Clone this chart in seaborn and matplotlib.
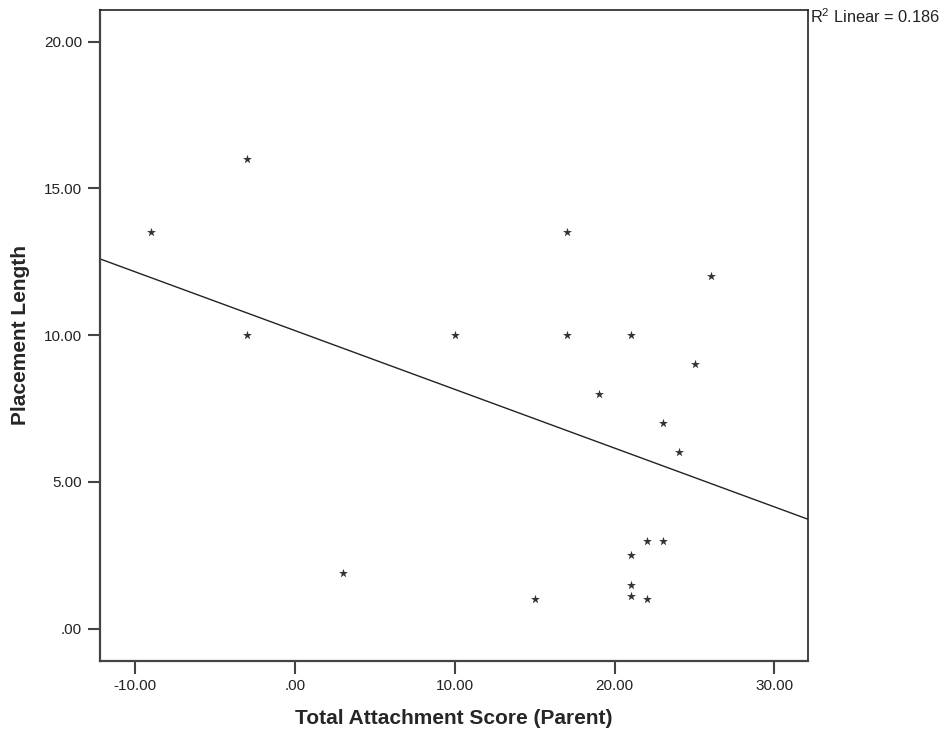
import numpy as np
import pandas as pd
import matplotlib
matplotlib.use("Agg")
import matplotlib.pyplot as plt
from matplotlib.ticker import FuncFormatter
import seaborn as sns

attachment_score = [-9, -3, -3, 3, 10, 15, 17, 17, 19, 21, 21, 21, 21,
                    22, 22, 23, 23, 24, 25, 26]
placement_length = [13.5, 16, 10, 1.9, 10, 1, 13.5, 10, 8, 10, 2.5, 1.5, 1.1,
                    3, 1, 3, 7, 6, 9, 12]
x_ticks = [-10, 0, 10, 20, 30]
y_ticks = [0, 5, 10, 15, 20]
r2_label = "R$^2$ Linear = 0.186"

df = pd.DataFrame({"Total Attachment Score (Parent)": attachment_score,
                   "Placement Length": placement_length})

sns.set_style("ticks")
plt.rcParams["font.family"] = ["Liberation Sans", "DejaVu Sans"]
plt.rcParams["mathtext.default"] = "regular"


def spss_fmt(v, pos):
    s = "%.2f" % v
    if s.startswith("0."):
        s = s[1:]
    elif s.startswith("-0."):
        s = "-" + s[2:]
    return s


fig = plt.figure(figsize=(9.41, 7.31), dpi=100)
ax = fig.add_axes([100 / 941, 1 - 660.5 / 731, 708 / 941, 651 / 731])
ax.set_xlim(-12.2, 32.1)
ax.set_ylim(-1.09, 21.1)

sns.regplot(data=df, x="Total Attachment Score (Parent)", y="Placement Length",
            ax=ax, ci=None, truncate=False, marker="*",
            scatter_kws={"s": 46, "color": "black", "linewidths": 0},
            line_kws={"color": "#222222", "linewidth": 1.0})
ax.set_xlim(-12.2, 32.1)
ax.set_ylim(-1.09, 21.1)

ax.set_xticks(x_ticks)
ax.set_yticks(y_ticks)
ax.xaxis.set_major_formatter(FuncFormatter(spss_fmt))
ax.yaxis.set_major_formatter(FuncFormatter(spss_fmt))
ax.tick_params(axis="both", direction="out", length=9, width=1.5,
               color="#444444", labelsize=11, labelcolor="#222222", pad=4)

for side in ["left", "bottom"]:
    ax.spines[side].set_color("#444444")
    ax.spines[side].set_linewidth(1.6)
for side in ["top", "right"]:
    ax.spines[side].set_color("#222222")
    ax.spines[side].set_linewidth(1.2)

ax.set_xlabel("Total Attachment Score (Parent)", fontsize=15, fontweight="bold",
              labelpad=12)
ax.set_ylabel("Placement Length", fontsize=15, fontweight="bold", labelpad=10)

fig.text(810 / 941, 1 - 23 / 731, r2_label, fontsize=11.8, color="#222222",
         ha="left", va="baseline")

fig.savefig("out.png", dpi=100, facecolor="white")
